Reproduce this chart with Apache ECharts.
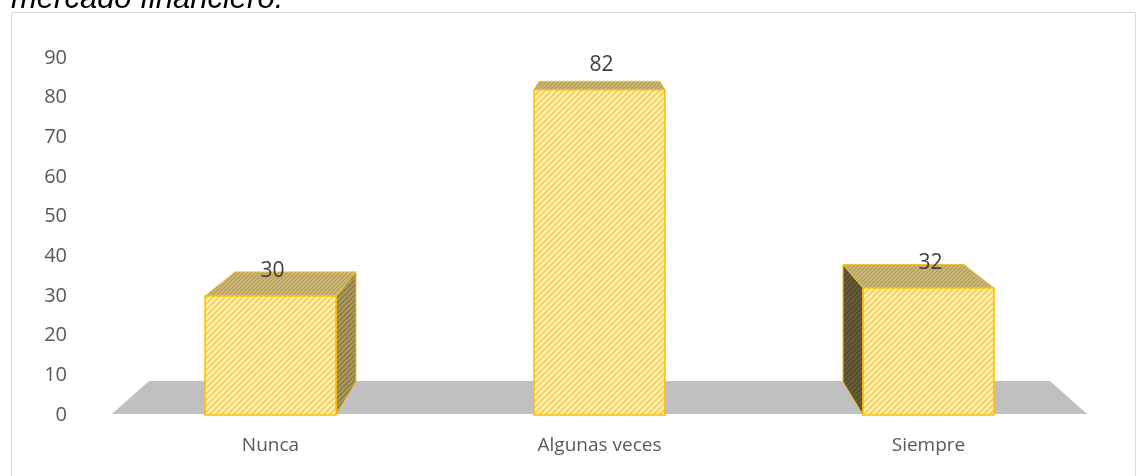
<!DOCTYPE html>
<html>
<head>
<meta charset="utf-8">
<script src="https://cdn.jsdelivr.net/npm/echarts@6/dist/echarts.min.js"></script>
<style>
  html, body { margin: 0; padding: 0; background: #fff; }
  #main { width: 1148px; height: 476px; }
</style>
</head>
<body>
<div id="main"></div>
<script>
const categories = ["Nunca", "Algunas veces", "Siempre"];
const values = [30, 82, 32];
const yTicks = { min: 0, max: 90, interval: 10 };

// perspective of the fake 3d view
const depthK = 0.924;     // scale of the back plane
const eyeAbove = 436;     // vanishing point, px above the zero line

function makeHatch(bg, fg, size, lw) {
  const c = document.createElement("canvas");
  c.width = size;
  c.height = size;
  const ctx = c.getContext("2d");
  ctx.fillStyle = bg;
  ctx.fillRect(0, 0, size, size);
  ctx.strokeStyle = fg;
  ctx.lineWidth = lw;
  ctx.beginPath();
  for (let k = -1; k <= 3; k++) {
    ctx.moveTo(-size, k * size + size);
    ctx.lineTo(k * size + size, -size);
  }
  ctx.stroke();
  return { image: c, repeat: "repeat" };
}

const frontFill = makeHatch("#FFF4C8", "#F5D161", 6, 2.2);
const sideFill = makeHatch("#AD9C62", "#8C7D47", 5, 1.6);
const darkSideFill = makeHatch("#6A5F38", "#534C2D", 5, 1.6);
const topFill = makeHatch("#CDB878", "#B49E5C", 4, 1.2);

function vanish(params, zeroY) {
  const cs = params.coordSys;
  return [cs.x + cs.width / 2, zeroY - eyeAbove];
}
function back(p, v) {
  return [v[0] + depthK * (p[0] - v[0]), v[1] + depthK * (p[1] - v[1])];
}

function renderFloor(params, api) {
  const bw = api.size([1, 0])[0];
  const l = api.coord([0, 0]);
  const r = api.coord([categories.length - 1, 0]);
  const v = vanish(params, l[1]);
  const fl = [l[0] - bw * 0.482, l[1] - 1];
  const fr = [r[0] + bw * 0.482, r[1] - 1];
  return {
    type: "polygon",
    shape: { points: [fl, fr, back(fr, v), back(fl, v)] },
    style: { fill: "#C0C0C0" }
  };
}

function renderBar(params, api) {
  const idx = api.value(0);
  const val = api.value(1);
  const base = api.coord([idx, 0]);
  const top = api.coord([idx, val]);
  const half = api.size([1, 0])[0] * 0.398 / 2;
  const v = vanish(params, base[1]);
  const fbl = [base[0] - half, base[1]];
  const fbr = [base[0] + half, base[1]];
  const ftl = [top[0] - half, top[1]];
  const ftr = [top[0] + half, top[1]];
  const btl = back(ftl, v), btr = back(ftr, v);
  const bbl = back(fbl, v), bbr = back(fbr, v);
  const children = [];
  if (btr[0] > ftr[0] + 1) {
    children.push({
      type: "polygon",
      shape: { points: [ftr, btr, bbr, fbr] },
      style: { fill: sideFill, stroke: "#EDBE2C", lineWidth: 1 }
    });
  }
  if (btl[0] < ftl[0] - 1) {
    children.push({
      type: "polygon",
      shape: { points: [ftl, btl, bbl, fbl] },
      style: { fill: darkSideFill, stroke: "#EDBE2C", lineWidth: 1 }
    });
  }
  children.push({
    type: "polygon",
    shape: { points: [ftl, ftr, btr, btl] },
    style: { fill: topFill, stroke: "#F2C12E", lineWidth: 1 }
  });
  children.push({
    type: "rect",
    shape: { x: ftl[0], y: ftl[1], width: half * 2, height: base[1] - top[1] },
    style: { fill: frontFill, stroke: "#FFC000", lineWidth: 1.6 }
  });
  children.push({
    type: "text",
    style: {
      text: String(val),
      x: top[0] + 2,
      y: top[1] - 25,
      align: "center",
      verticalAlign: "middle",
      font: "21px 'Open Sans'",
      fill: "#404040"
    }
  });
  return { type: "group", children: children };
}

const options = {
  animation: false,
  graphic: [
    {
      type: "rect",
      shape: { x: 11.5, y: 12.5, width: 1124, height: 480 },
      style: { fill: "none", stroke: "#D9D9D9", lineWidth: 1 },
      silent: true
    },
    {
      type: "text",
      x: 11,
      y: 15,
      style: {
        text: "mercado financiero.",
        font: "italic 31px 'Liberation Sans'",
        fill: "#000",
        verticalAlign: "bottom"
      }
    }
  ],
  grid: { left: 106, right: 55, top: 58, bottom: 61 },
  xAxis: {
    type: "category",
    data: categories,
    axisLine: { show: false },
    axisTick: { show: false },
    axisLabel: { margin: 21, fontSize: 19, fontFamily: "Open Sans", color: "#595959" }
  },
  yAxis: {
    type: "value",
    min: yTicks.min,
    max: yTicks.max,
    interval: yTicks.interval,
    splitLine: { show: false },
    axisLine: { show: false },
    axisTick: { show: false },
    axisLabel: { margin: 39, fontSize: 20, fontFamily: "Open Sans", color: "#595959" }
  },
  series: [
    {
      type: "custom",
      renderItem: renderFloor,
      data: [[0]],
      encode: { x: 0 },
      z: 1,
      silent: true
    },
    {
      type: "custom",
      renderItem: renderBar,
      data: values.map((v, i) => [i, v]),
      encode: { x: 0, y: 1 },
      z: 2
    }
  ]
};

var myChart = echarts.init(document.getElementById("main"));
myChart.setOption(options);
</script>
</body>
</html>
